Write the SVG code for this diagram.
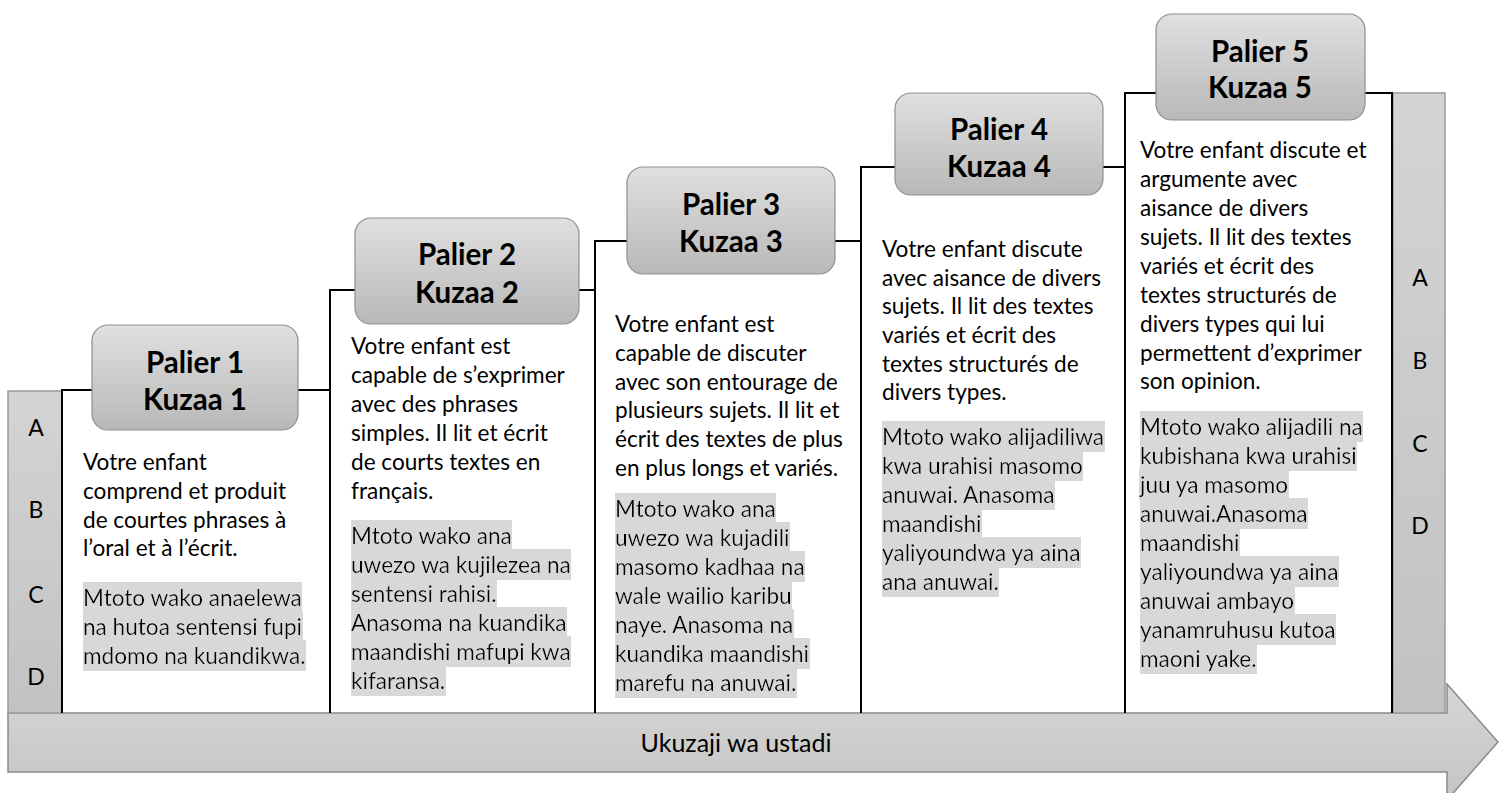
<svg xmlns="http://www.w3.org/2000/svg" width="1500" height="793" viewBox="0 0 1500 793">
<defs>
<linearGradient id="gBox" x1="0" y1="0" x2="0" y2="1">
<stop offset="0" stop-color="#e0e0e0"/><stop offset="1" stop-color="#b8b8b8"/>
</linearGradient>
<linearGradient id="gBar" x1="0" y1="0" x2="0" y2="1">
<stop offset="0" stop-color="#d4d4d4"/><stop offset="1" stop-color="#c2c2c2"/>
</linearGradient>
<linearGradient id="gArrow" x1="0" y1="0" x2="0" y2="1">
<stop offset="0" stop-color="#d6d6d6"/><stop offset="1" stop-color="#c4c4c4"/>
</linearGradient>
<filter id="hl" x="0" y="-0.06" width="1" height="1.12">
<feFlood flood-color="#d8d8d8" result="bg"/>
<feMerge><feMergeNode in="bg"/><feMergeNode in="SourceGraphic"/></feMerge>
</filter>
</defs>
<style>
.box{fill:url(#gBox);stroke:#8f8f8f;stroke-width:1.2}
.bar{fill:url(#gBar);stroke:#9a9a9a;stroke-width:1.5}
.arrow{fill:url(#gArrow);stroke:#8a8a8a;stroke-width:1.5}
.line{fill:none;stroke:#000;stroke-width:2}
.hd{font-family:Lato,"Liberation Sans",sans-serif;font-weight:bold;font-size:29.5px;fill:#000;text-anchor:middle}
.t{font-family:Lato,"Liberation Sans",sans-serif;font-size:22.6px;fill:#000}
.sw{font-family:Lato,"Liberation Sans",sans-serif;font-size:22.6px;fill:#000;filter:url(#hl)}
.lt{font-family:Lato,"Liberation Sans",sans-serif;font-size:23px;fill:#000;text-anchor:middle}
.ax{font-family:Lato,"Liberation Sans",sans-serif;font-size:25px;fill:#000;text-anchor:middle}
</style>

<g id="arrow">
<polygon class="arrow" points="8,713 1447,713 1447,684 1498,742 1447,800 1447,772 8,772"/>
<text class="ax" x="736" y="752">Ukuzaji wa ustadi</text>
</g>

<g id="left-bar">
<rect class="bar" x="8" y="391" width="54" height="322"/>
<text class="lt" x="36" y="436">A</text>
<text class="lt" x="36" y="518">B</text>
<text class="lt" x="36" y="603">C</text>
<text class="lt" x="36" y="685">D</text>
</g>

<g id="right-bar">
<rect class="bar" x="1393" y="93" width="52" height="620"/>
<text class="lt" x="1420" y="286">A</text>
<text class="lt" x="1420" y="369">B</text>
<text class="lt" x="1420" y="452">C</text>
<text class="lt" x="1420" y="534">D</text>
</g>

<g id="connectors">
<path class="line" d="M62,713 V390 H330 V290 H595 V241 H861 V167 H1125 V93 H1392 V713"/>
<path class="line" d="M330,390 V713 M595,290 V713 M861,241 V713 M1125,167 V713"/>
</g>

<g id="palier1">
<rect class="box" x="92" y="325" width="206" height="105" rx="16"/>
<text class="hd" x="195" y="373">Palier 1</text>
<text class="hd" x="195" y="410">Kuzaa 1</text>
<text class="t" x="83" y="470">Votre enfant</text>
<text class="t" x="83" y="499">comprend et produit</text>
<text class="t" x="83" y="528">de courtes phrases à</text>
<text class="t" x="83" y="556">l’oral et à l’écrit.</text>
<text class="sw" x="83" y="606">Mtoto wako anaelewa</text>
<text class="sw" x="83" y="635">na hutoa sentensi fupi</text>
<text class="sw" x="83" y="664">mdomo na kuandikwa.</text>
</g>

<g id="palier2">
<rect class="box" x="355" y="218" width="224" height="106" rx="16"/>
<text class="hd" x="467" y="265">Palier 2</text>
<text class="hd" x="467" y="303">Kuzaa 2</text>
<text class="t" x="351" y="354">Votre enfant est</text>
<text class="t" x="351" y="383">capable de s’exprimer</text>
<text class="t" x="351" y="412">avec des phrases</text>
<text class="t" x="351" y="441">simples. Il lit et écrit</text>
<text class="t" x="351" y="470">de courts textes en</text>
<text class="t" x="351" y="499">français.</text>
<text class="sw" x="351" y="544">Mtoto wako ana</text>
<text class="sw" x="351" y="573">uwezo wa kujilezea na</text>
<text class="sw" x="351" y="602">sentensi rahisi.</text>
<text class="sw" x="351" y="631">Anasoma na kuandika</text>
<text class="sw" x="351" y="660">maandishi mafupi kwa</text>
<text class="sw" x="351" y="689">kifaransa.</text>
</g>

<g id="palier3">
<rect class="box" x="627" y="167" width="208" height="107" rx="16"/>
<text class="hd" x="731" y="215">Palier 3</text>
<text class="hd" x="731" y="252">Kuzaa 3</text>
<text class="t" x="615" y="332">Votre enfant est</text>
<text class="t" x="615" y="361">capable de discuter</text>
<text class="t" x="615" y="390">avec son entourage de</text>
<text class="t" x="615" y="418">plusieurs sujets. Il lit et</text>
<text class="t" x="615" y="447">écrit des textes de plus</text>
<text class="t" x="615" y="476">en plus longs et variés.</text>
<text class="sw" x="615" y="517">Mtoto wako ana</text>
<text class="sw" x="615" y="546">uwezo wa kujadili</text>
<text class="sw" x="615" y="575">masomo kadhaa na</text>
<text class="sw" x="615" y="604">wale wailio karibu</text>
<text class="sw" x="615" y="633">naye. Anasoma na</text>
<text class="sw" x="615" y="662">kuandika maandishi</text>
<text class="sw" x="615" y="691">marefu na anuwai.</text>
</g>

<g id="palier4">
<rect class="box" x="895" y="93" width="208" height="102" rx="16"/>
<text class="hd" x="999" y="140">Palier 4</text>
<text class="hd" x="999" y="177">Kuzaa 4</text>
<text class="t" x="882" y="257">Votre enfant discute</text>
<text class="t" x="882" y="286">avec aisance de divers</text>
<text class="t" x="882" y="314">sujets. Il lit des textes</text>
<text class="t" x="882" y="343">variés et écrit des</text>
<text class="t" x="882" y="372">textes structurés de</text>
<text class="t" x="882" y="400">divers types.</text>
<text class="sw" x="882" y="445">Mtoto wako alijadiliwa</text>
<text class="sw" x="882" y="474">kwa urahisi masomo</text>
<text class="sw" x="882" y="503">anuwai. Anasoma</text>
<text class="sw" x="882" y="532">maandishi</text>
<text class="sw" x="882" y="561">yaliyoundwa ya aina</text>
<text class="sw" x="882" y="590">ana anuwai.</text>
</g>

<g id="palier5">
<rect class="box" x="1156" y="14" width="209" height="106" rx="16"/>
<text class="hd" x="1260" y="62">Palier 5</text>
<text class="hd" x="1260" y="98">Kuzaa 5</text>
<text class="t" x="1140" y="158">Votre enfant discute et</text>
<text class="t" x="1140" y="187">argumente avec</text>
<text class="t" x="1140" y="216">aisance de divers</text>
<text class="t" x="1140" y="245">sujets. Il lit des textes</text>
<text class="t" x="1140" y="274">variés et écrit des</text>
<text class="t" x="1140" y="303">textes structurés de</text>
<text class="t" x="1140" y="332">divers types qui lui</text>
<text class="t" x="1140" y="361">permettent d’exprimer</text>
<text class="t" x="1140" y="389">son opinion.</text>
<text class="sw" x="1140" y="435">Mtoto wako alijadili na</text>
<text class="sw" x="1140" y="464">kubishana kwa urahisi</text>
<text class="sw" x="1140" y="493">juu ya masomo</text>
<text class="sw" x="1140" y="522">anuwai.Anasoma</text>
<text class="sw" x="1140" y="551">maandishi</text>
<text class="sw" x="1140" y="580">yaliyoundwa ya aina</text>
<text class="sw" x="1140" y="609">anuwai ambayo</text>
<text class="sw" x="1140" y="638">yanamruhusu kutoa</text>
<text class="sw" x="1140" y="667">maoni yake.</text>
</g>
</svg>
